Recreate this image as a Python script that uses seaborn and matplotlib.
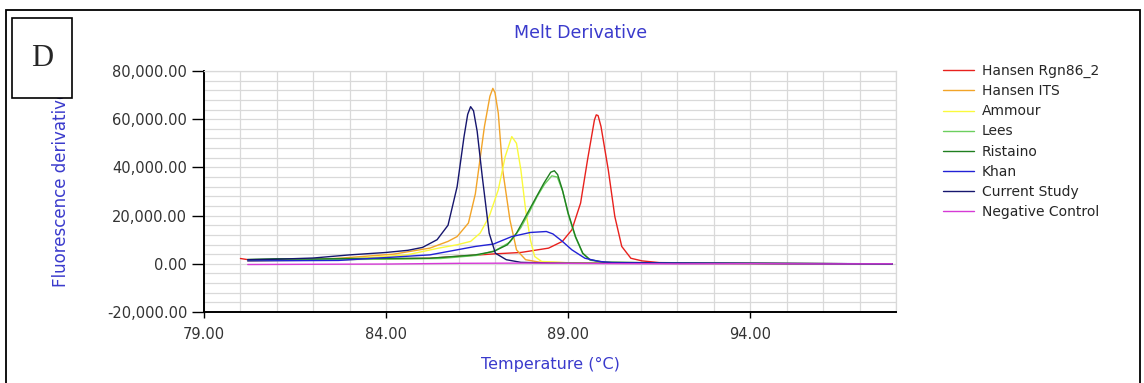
import numpy as np
import pandas as pd
import matplotlib
matplotlib.use("Agg")
import matplotlib.pyplot as plt
import seaborn as sns
from matplotlib.patches import Rectangle
from matplotlib.ticker import MultipleLocator, FuncFormatter

# ---------------- data ----------------
series_names = ["Hansen Rgn86_2", "Hansen ITS", "Ammour", "Lees",
                "Ristaino", "Khan", "Current Study", "Negative Control"]
series_colors = ["#e8211d", "#f2a428", "#fafa3c", "#6ccf5f",
                 "#1f7f1f", "#2222d6", "#16166e", "#d63ad6"]

rgn86_x = [80.0, 80.3, 82.0, 85.2, 86.95, 87.7, 88.46, 88.84, 89.1, 89.34, 89.53,
           89.72, 89.77, 89.82, 89.9, 90.1, 90.28, 90.47, 90.72, 91.03, 91.5, 93.0, 95.0, 97.9]
rgn86_y = [2200, 1500, 1600, 2300, 4100, 4700, 6500, 9300, 14100, 25200, 43100,
           59700, 61800, 61500, 57000, 39000, 19600, 7200, 2300, 1200, 500, 300, 100, 0]

its_x = [80.2, 82.0, 82.7, 84.2, 85.2, 85.7, 85.95, 86.26, 86.45, 86.7, 86.85,
         86.93, 86.99, 87.08, 87.2, 87.4, 87.58, 87.83, 88.2, 89.5, 92.0, 95.0, 97.9]
its_y = [1200, 1800, 2300, 4000, 6500, 9300, 11300, 16900, 29000, 57000, 69500,
         72800, 71000, 62500, 39000, 18200, 5800, 1700, 700, 300, 200, 100, 0]

ammour_x = [80.2, 82.0, 83.3, 84.57, 85.44, 85.95, 86.32, 86.58, 86.83, 87.08, 87.27,
            87.45, 87.58, 87.7, 87.83, 87.96, 88.08, 88.27, 89.0, 92.0, 95.0, 97.9]
ammour_y = [1200, 1500, 2300, 3700, 6500, 7900, 9300, 12700, 19600, 30700, 44500,
            52800, 50000, 39000, 22400, 10000, 3000, 970, 400, 200, 100, 0]

lees_x = [80.2, 82.0, 84.0, 85.5, 86.5, 87.0, 87.4, 87.7, 87.95, 88.15, 88.35,
          88.55, 88.7, 88.85, 89.0, 89.2, 89.4, 89.6, 90.0, 92.0, 95.0, 97.9]
lees_y = [1500, 1700, 1900, 2200, 3500, 5500, 9000, 15000, 22000, 28000, 33000,
          36500, 36000, 30000, 20500, 11000, 4200, 1500, 600, 300, 100, 0]

ristaino_x = [80.2, 81.0, 82.0, 83.0, 85.2, 86.45, 86.95, 87.33, 87.58, 87.83, 88.08,
              88.33, 88.52, 88.62, 88.71, 88.84, 89.0, 89.2, 89.4, 89.6, 89.97, 92.0, 95.0, 97.9]
ristaino_y = [1800, 2100, 2000, 2200, 2300, 3700, 5100, 7900, 12700, 19600, 26500,
              33400, 38000, 38600, 37000, 30700, 21000, 11300, 4400, 1700, 700, 300, 100, 0]

khan_x = [80.2, 82.7, 85.2, 85.95, 86.45, 86.95, 87.45, 87.96, 88.4, 88.58, 88.84,
          89.1, 89.46, 89.84, 90.2, 92.0, 95.0, 97.9]
khan_y = [1200, 1400, 3700, 5800, 7200, 8200, 11300, 13000, 13400, 12400, 9300,
          5800, 2300, 1000, 500, 300, 150, 0]

current_x = [80.2, 81.0, 82.0, 83.0, 84.0, 84.6, 85.0, 85.4, 85.7, 85.95, 86.14, 86.24,
             86.32, 86.4, 86.5, 86.64, 86.83, 87.0, 87.3, 87.7, 88.5, 90.0, 92.0, 95.0, 97.9]
current_y = [1700, 1900, 2400, 3700, 4700, 5600, 6800, 10000, 16000, 32000, 52800, 62000,
             65200, 63500, 55000, 36200, 12700, 4400, 1700, 600, 300, 200, 150, 100, 0]

negative_x = [80.2, 82.0, 84.0, 86.0, 88.0, 90.0, 92.0, 94.0, 96.0, 97.9]
negative_y = [-300, -200, -100, 200, 300, 100, 0, 50, -50, 0]

x_ticks = [79, 84, 89, 94]
y_ticks = [-20000, 0, 20000, 40000, 60000, 80000]

# ---------------- build long table ----------------
all_x = [rgn86_x, its_x, ammour_x, lees_x, ristaino_x, khan_x, current_x, negative_x]
all_y = [rgn86_y, its_y, ammour_y, lees_y, ristaino_y, khan_y, current_y, negative_y]
frames = []
for name, xs, ys in zip(series_names, all_x, all_y):
    frames.append(pd.DataFrame({"Temperature": xs, "Value": ys, "Series": name}))
df = pd.concat(frames, ignore_index=True)

sns.set_theme(style="white")
plt.rcParams["font.family"] = ["DejaVu Sans"]

W, H = 1144, 383
fig = plt.figure(figsize=(W / 100, H / 100), dpi=100)
ax_l, ax_r, ax_t, ax_b = 204, 896, 71, 312
ax = fig.add_axes([ax_l / W, 1 - ax_b / H, (ax_r - ax_l) / W, (ax_b - ax_t) / H])

palette = dict(zip(series_names, series_colors))
sns.lineplot(data=df, x="Temperature", y="Value", hue="Series",
             hue_order=series_names, palette=palette, estimator=None,
             linewidth=1.0, ax=ax)

ax.set_xlim(79, 98)
ax.set_ylim(-20000, 80000)
ax.set_xticks(x_ticks)
ax.xaxis.set_major_formatter(FuncFormatter(lambda v, p: f"{v:.2f}"))
ax.xaxis.set_minor_locator(MultipleLocator(1))
ax.set_yticks(y_ticks)
ax.yaxis.set_major_formatter(FuncFormatter(lambda v, p: f"{v:,.2f}"))
ax.yaxis.set_minor_locator(MultipleLocator(4000))
ax.grid(which="both", color="#d9d9d9", linewidth=0.9)
ax.set_axisbelow(True)
ax.tick_params(which="minor", length=0)
ax.tick_params(axis="y", which="major", length=9, width=1, color="black", labelsize=10.5,
               labelcolor="#333333", direction="out", left=True, pad=3)
ax.tick_params(axis="x", which="major", length=4, width=1, color="black", labelsize=10.5,
               labelcolor="#333333", direction="out", bottom=True, pad=7)
for s in ["left", "bottom"]:
    ax.spines[s].set_color("black")
    ax.spines[s].set_linewidth(1.4)
for s in ["top", "right"]:
    ax.spines[s].set_color("#d9d9d9")
    ax.spines[s].set_linewidth(0.9)

blue = "#3a3acc"
ax.set_xlabel("Temperature (°C)", color=blue, fontsize=11.5)
ax.xaxis.set_label_coords(0.5, -(357 - ax_b) / (ax_b - ax_t))
ax.set_ylabel("Fluorescence derivative", color=blue, fontsize=12)
ax.yaxis.set_label_coords(-(ax_l - 70) / (ax_r - ax_l), 0.515)

fig.text(581 / W, 1 - 33 / H, "Melt Derivative", ha="center", va="center",
         color=blue, fontsize=12.5)

handles, labels = ax.get_legend_handles_labels()
ax.legend(handles, labels, loc="upper left", bbox_to_anchor=(943 / W, 1 - 64 / H),
          bbox_transform=fig.transFigure, frameon=False, fontsize=10,
          handlelength=2.2, handletextpad=0.6, labelspacing=0.44,
          borderpad=0, borderaxespad=0)

# outer frame and panel letter box
fig.add_artist(Rectangle((6 / W, -0.05), (1140 - 6) / W, (1 - 10 / H) + 0.05,
                         transform=fig.transFigure, fill=False, edgecolor="black",
                         linewidth=1.3, clip_on=False))
fig.add_artist(Rectangle((12 / W, 1 - 98 / H), 60 / W, 80 / H,
                         transform=fig.transFigure, facecolor="white",
                         edgecolor="black", linewidth=1.2, zorder=5))
fig.text(42 / W, 1 - 58 / H, "D", ha="center", va="center", fontsize=22,
         family="Liberation Serif", zorder=6)

fig.savefig("out.png", dpi=100)
